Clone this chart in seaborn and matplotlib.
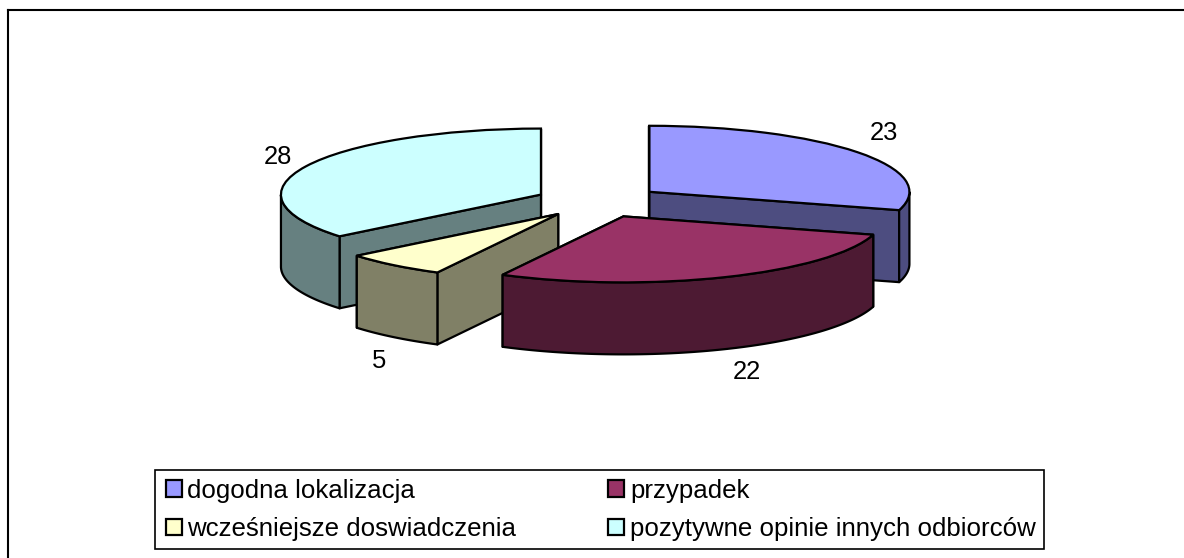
# -*- coding: utf-8 -*-
import numpy as np
import seaborn as sns
import matplotlib
matplotlib.use('Agg')
import matplotlib.pyplot as plt
from matplotlib.patches import Polygon, Patch, Rectangle

kategorie = ['dogodna lokalizacja', 'przypadek', 'wcześniejsze doswiadczenia',
             'pozytywne opinie innych odbiorców']
wartosci = [23, 22, 5, 28]
kolory_gora = ['#9999FF', '#993366', '#FFFFCC', '#CCFFFF']
kolory_bok = ['#4D4D80', '#4D1A33', '#808066', '#668080']

W, H = 1184, 558
cx, cy = 598.5, 201.5   # srodek wykresu w pikselach
rx, ry = 260, 66        # polosie elipsy
glebokosc = 72 / ry
wysuniecie = 0.245

sns.set_theme(style='white')
plt.rcParams['font.family'] = ['Liberation Sans', 'DejaVu Sans']
plt.rcParams['text.color'] = 'black'

fig = plt.figure(figsize=(W / 100, H / 100), dpi=100, facecolor='white')
ax = fig.add_axes([7.5 / W, 0, 1 - 7.5 / W, 1 - 9.5 / H])

wedges, _ = ax.pie(wartosci, startangle=90, counterclock=False,
                   explode=[wysuniecie] * len(wartosci),
                   colors=sns.color_palette(kolory_gora),
                   wedgeprops={'edgecolor': 'black', 'linewidth': 1.6})
ax.set_aspect('auto')
ax.set_xlim((7.5 - cx) / rx, (W - cx) / rx)
ax.set_ylim((cy - H) / ry, (cy - 9.5) / ry)


def punkt(w, kat):
    t = np.radians(kat)
    return np.array([w.center[0] + w.r * np.cos(t), w.center[1] + w.r * np.sin(t)])


def sciana(gora, kolor, z):
    gora = np.asarray(gora)
    dol = gora[::-1] - [0, glebokosc]
    ax.add_patch(Polygon(np.vstack([gora, dol]), closed=True, facecolor=kolor,
                         edgecolor='black', linewidth=1.6, joinstyle='round', zorder=z))


# kolejnosc rysowania: od tylu do przodu
z = 2
for i in [3, 0, 2, 1]:
    w = wedges[i]
    srodek = np.array(w.center)
    krawedzie = sorted([w.theta1, w.theta2], key=lambda k: -np.sin(np.radians(k)))
    for kat in krawedzie:
        sciana([srodek, punkt(w, kat)], kolory_bok[i], z)
        z += 1
    katy = np.linspace(w.theta1, w.theta2, 240)
    katy = katy[np.sin(np.radians(katy)) < 0]
    if len(katy) > 1:
        sciana([punkt(w, k) for k in katy], kolory_bok[i], z)
        z += 1
    w.set_zorder(z)
    z += 1

ax.set_frame_on(True)
for s in ['right', 'bottom']:
    ax.spines[s].set_visible(False)
for s in ['left', 'top']:
    ax.spines[s].set_color('black')
    ax.spines[s].set_linewidth(1.5)

# etykiety wartosci
pozycje = [(884, 133), (747, 372), (379, 361), (278, 157)]
for wart, (x, y) in zip(wartosci, pozycje):
    fig.text(x / W, 1 - y / H, str(wart), fontsize=18.4, color='black', ha='center', va='center')

# ramka legendy osobno, bo marginesy w poziomie i pionie sa rozne
fig.add_artist(Rectangle((155 / W, 1 - 549 / H), 889 / W, 79 / H, transform=fig.transFigure,
                         facecolor='white', edgecolor='black', linewidth=1.2))
uchwyty = [Patch(facecolor=k, edgecolor='black', linewidth=1.6) for k in kolory_gora]
kolejnosc = [0, 2, 1, 3]
fig.legend([uchwyty[i] for i in kolejnosc], [kategorie[i] for i in kolejnosc],
           ncols=2, loc='lower left', bbox_to_anchor=(166 / W, 1 - 541 / H),
           bbox_transform=fig.transFigure, borderaxespad=0, fontsize=18.6,
           labelcolor='black', frameon=False, borderpad=0,
           handlelength=0.6, handleheight=0.6, handletextpad=0.23,
           columnspacing=3.56, labelspacing=0.55)

fig.savefig('out.png', dpi=100)
plt.close(fig)
